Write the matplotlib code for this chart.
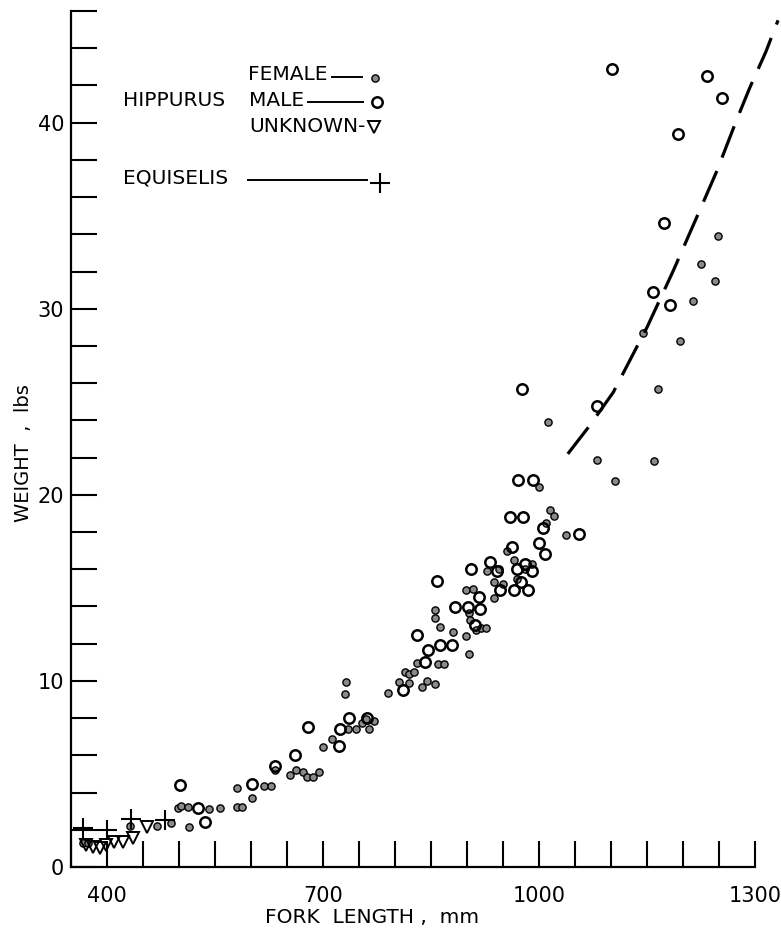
import matplotlib
matplotlib.use("Agg")
import matplotlib.pyplot as plt
from matplotlib.ticker import MultipleLocator, FixedLocator

# ---------------- data ----------------
female_x = [367, 374, 432, 469, 489, 498, 503, 513, 514, 542, 557, 580, 587, 581, 601,
            618, 628, 633, 654, 663, 672, 678, 686, 694, 700, 712, 735, 746, 754, 760,
            764, 771, 730, 732, 790, 805, 814, 819, 820, 826, 831, 838, 845, 855, 860,
            868, 863, 881, 898, 903, 913, 920, 927, 856, 856, 903, 904, 898, 908, 938,
            938, 928, 950, 945, 955, 965, 980, 990, 970, 1000, 1015, 1010, 1012, 1021,
            1037, 1081, 1105, 1160, 1165, 1196, 1145, 1214, 1245, 1225, 1248]
female_y = [1.3, 1.3, 2.2, 2.2, 2.35, 3.16, 3.3, 3.25, 2.14, 3.1, 3.16, 3.2, 3.25, 4.27, 3.7,
            4.36, 4.36, 5.2, 4.95, 5.22, 5.1, 4.83, 4.86, 5.13, 6.45, 6.9, 7.43, 7.43, 7.74, 7.95,
            7.43, 7.82, 9.3, 9.95, 9.35, 9.93, 10.46, 9.9, 10.39, 10.46, 10.97, 9.66, 9.98, 9.85, 10.93,
            10.93, 12.9, 12.64, 12.44, 11.45, 12.72, 12.85, 12.85, 13.8, 13.4, 13.66, 13.3, 14.88, 14.95, 14.47,
            15.3, 15.9, 15.2, 16.0, 17.0, 16.5, 16.0, 16.3, 15.5, 20.4, 19.2, 18.5, 23.9, 18.86,
            17.84, 21.86, 20.75, 21.8, 25.7, 28.25, 28.7, 30.4, 31.5, 32.4, 33.9]

male_x = [501, 527, 536, 602, 633, 661, 679, 722, 724, 736, 761, 811, 842, 846, 831, 863,
          879, 911, 883, 902, 918, 917, 946, 859, 906, 932, 942, 971, 992, 978, 960,
          1005, 1008, 962, 970, 980, 990, 975, 985, 965, 1000, 976, 1056, 1081, 1102,
          1234, 1254, 1193, 1174, 1158, 1182]
male_y = [4.4, 3.16, 2.44, 4.45, 5.45, 6.0, 7.5, 6.48, 7.41, 8.0, 8.0, 9.5, 11.0, 11.65, 12.45, 11.95,
          11.95, 12.98, 13.96, 13.96, 13.87, 14.5, 14.9, 15.36, 16.0, 16.4, 15.9, 20.8, 20.8, 18.8, 18.8,
          18.2, 16.8, 17.2, 16.0, 16.3, 15.9, 15.3, 14.9, 14.9, 17.4, 25.7, 17.9, 24.8, 42.9,
          42.5, 41.3, 39.4, 34.6, 30.9, 30.2]

unknown_x = [371, 380, 390, 399, 410, 422, 436, 456]
unknown_y = [1.18, 1.06, 1.0, 1.18, 1.36, 1.36, 1.55, 2.17]

equiselis_x = [367, 399.5, 433, 480]
equiselis_y = [2.1, 2.0, 2.6, 2.5]

curve_x = [1040, 1070, 1103, 1150, 1186, 1220, 1247, 1275, 1293, 1315, 1332]
curve_y = [22.2, 23.7, 25.5, 29.0, 32.0, 35.0, 37.4, 40.2, 41.9, 43.8, 45.5]

x_major = [400, 700, 1000, 1300]
x_labels = ["400", "700", "1000", "1300"]
y_major = [0, 10, 20, 30, 40]
y_labels = ["0", "10", "20", "30", "40"]

# ---------------- figure ----------------
plt.rcParams['font.family'] = ['DejaVu Sans']
fig = plt.figure(figsize=(7.81, 9.32), dpi=100)
ax = fig.add_axes([71/781, 65/932, 684/781, 856/932])

ax.set_xlim(350, 1300)
ax.set_ylim(0, 46)

for s in ['top', 'right']:
    ax.spines[s].set_visible(False)
for s in ['left', 'bottom']:
    ax.spines[s].set_linewidth(1.6)

ax.xaxis.set_major_locator(FixedLocator(x_major))
ax.set_xticklabels(x_labels)
ax.xaxis.set_minor_locator(MultipleLocator(50))
ax.yaxis.set_major_locator(FixedLocator(y_major))
ax.set_yticklabels(y_labels)
ax.yaxis.set_minor_locator(MultipleLocator(2))
ax.tick_params(which='both', direction='in', length=19, width=1.5, color='black')
ax.tick_params(axis='x', which='major', pad=14, labelsize=15)
ax.tick_params(axis='y', which='major', pad=5, labelsize=15)

ax.set_xlabel("FORK  LENGTH ,  mm", fontsize=14.5)
ax.xaxis.set_label_coords((372 - 71) / 684, (867 - 908) / 856)
ax.set_ylabel("WEIGHT  ,  lbs", fontsize=14)
ax.yaxis.set_label_coords((33 - 71) / 684, (867 - 453) / 856)

# data
ax.plot(female_x, female_y, linestyle='none', marker='o', ms=5.2,
        mfc='#8a8a8a', mec='black', mew=1.0, clip_on=False)
ax.plot(male_x, male_y, linestyle='none', marker='o', ms=7.5,
        mfc='none', mec='black', mew=1.8, clip_on=False)
ax.plot(unknown_x, unknown_y, linestyle='none', marker='v', ms=9,
        mfc='none', mec='black', mew=1.4, clip_on=False)
ax.plot(equiselis_x, equiselis_y, linestyle='none', marker='+', ms=14,
        mec='black', mew=1.5, clip_on=False)
ax.plot(curve_x, curve_y, color='black', lw=2.3, dashes=(10.5, 4.5),
        solid_capstyle='butt', clip_on=False)

# legend (hand-built, axes fraction)
T = ax.transAxes
fs = 14.5
ax.text(0.076, 0.895, "HIPPURUS", transform=T, fontsize=fs, va='center', ha='left')
ax.text(0.259, 0.926, "FEMALE", transform=T, fontsize=fs, va='center', ha='left')
ax.plot([0.381, 0.425], [0.923, 0.923], transform=T, color='black', lw=1.4)
ax.plot([0.444], [0.922], transform=T, marker='o', ms=5.2, mfc='#8a8a8a', mec='black', mew=1.0)
ax.text(0.260, 0.895, "MALE", transform=T, fontsize=fs, va='center', ha='left')
ax.plot([0.346, 0.427], [0.894, 0.894], transform=T, color='black', lw=1.4)
ax.plot([0.447], [0.894], transform=T, marker='o', ms=7.5, mfc='none', mec='black', mew=1.8)
ax.text(0.260, 0.865, "UNKNOWN-", transform=T, fontsize=fs, va='center', ha='left')
ax.plot([0.443], [0.865], transform=T, marker='v', ms=9, mfc='none', mec='black', mew=1.4)
ax.text(0.076, 0.805, "EQUISELIS", transform=T, fontsize=fs, va='center', ha='left')
ax.plot([0.259, 0.433], [0.803, 0.803], transform=T, color='black', lw=1.4)
ax.plot([0.452], [0.799], transform=T, marker='+', ms=14, mec='black', mew=1.5)

fig.savefig("out.png", dpi=100)
